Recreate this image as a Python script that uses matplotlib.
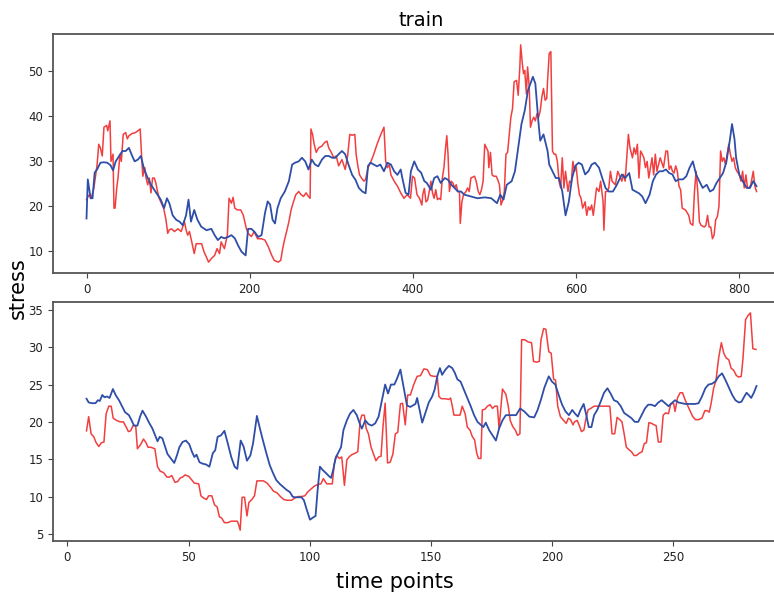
import numpy as np
import matplotlib
matplotlib.use("Agg")
import matplotlib.pyplot as plt

train_true_x = [0, 3, 6, 9, 13, 15, 17, 19.3, 21.4, 24.7, 26, 28.8, 30, 32.5, 33.7, 35, 37, 38.6, 41, 42.7,
                45, 48, 50, 52, 56, 60, 63, 65.8, 67.4, 69, 71.5, 73, 75, 77, 79, 81, 83, 85, 87, 89,
                91, 94.5, 97.4, 99.5, 101.5, 104.4, 107.7, 112, 116, 120, 122, 124, 126.2, 129, 132, 134.4, 138.5, 141, 144, 147,
                149.6, 153, 157, 160, 163, 165, 169, 172.6, 174.7, 177.6, 179.6, 181.7, 185, 189, 192, 194, 196, 198, 202, 205.5,
                209.6, 214.5, 218.7, 222.8, 227, 230, 235, 238, 240.4, 243, 246, 248, 250.7, 253.6, 256.5, 260, 263, 266, 269, 272,
                274, 275, 277, 279, 281.5, 284.4, 288.5, 291.8, 294.7, 296.8, 300, 303, 306, 309, 313, 317, 320, 322.6, 325.5, 328.8,
                330.4, 332.5, 334.6, 337, 340, 342, 345, 348, 352, 356, 360, 364.5, 366.6, 368.7, 371, 373, 377, 381, 385, 389,
                393, 397, 399.5, 402, 405, 408, 411, 412, 414, 416, 418, 420, 422, 424, 426, 428, 430, 432, 434, 436,
                438, 440, 441.5, 443, 444.7, 446.8, 449, 451, 453, 455, 457, 458, 460, 462, 465, 467, 469, 471, 475.5, 477.5,
                480, 482, 484, 486, 488, 490, 492, 493, 495, 497, 499, 502, 504, 506, 508, 510, 512, 514, 516, 518,
                520, 522, 524, 527, 529, 531, 532, 534, 535.5, 537, 539, 540.5, 542.5, 544, 546, 548, 550, 552, 554, 556,
                558, 560, 562, 564, 565, 567, 569, 571, 573, 575, 577, 579, 581, 583, 585, 587, 590, 592, 594, 596,
                598, 600, 602, 604, 606, 608, 611, 613, 615, 617, 619, 621, 623, 625, 628, 630, 632, 633, 634, 636,
                638, 640, 642, 644, 648, 651, 656, 658, 660, 662, 664, 666, 669, 671, 673, 675, 677, 679, 681, 683,
                685, 687, 689, 691, 693, 695, 697, 699, 701, 703, 707, 710, 712, 714, 716, 718, 720, 722, 724, 726,
                728, 730, 734, 738, 740, 743, 745, 747, 749, 751, 753, 757, 759, 761, 763, 765, 767, 769, 771, 773,
                775, 777, 779, 781, 783, 785, 787, 789, 791, 793, 795, 797, 800, 802, 804, 806, 808, 810, 812, 814,
                817, 819, 821]
train_true = [21.5, 22.5, 22, 24, 29.3, 33.8, 33, 31.2, 37.6, 38, 36.8, 39, 30, 31.6, 19.6, 19.6, 24, 26.3, 31.6, 30,
              36, 36.4, 35, 35.7, 36.2, 36.4, 36.8, 37.2, 31.6, 26.7, 28.6, 26.3, 24.8, 26.3, 23, 26.3, 26.3, 25.2, 23.3, 21.8,
              21, 19.6, 17, 14, 14.8, 15, 14.4, 15, 14.4, 16.6, 14.8, 13.6, 14.4, 12.1, 9.5, 11.7, 11.7, 11.7, 9.9, 8.7,
              7.6, 8.4, 9.1, 10.6, 9.5, 12.1, 10.6, 13.6, 21.8, 20.7, 22, 19.6, 19.2, 19.2, 18.1, 16.6, 15, 14, 13.3, 14.4,
              12.8, 12.8, 12.5, 11, 9.1, 8, 7.6, 8, 10.6, 12.8, 15, 16.6, 19.2, 21, 22.6, 23.3, 22.6, 22.2, 23, 22.2,
              21.8, 37.2, 36, 33.8, 32, 33, 33.4, 34.2, 34.5, 33, 32, 30.8, 31.2, 29, 30.4, 28.2, 31.2, 36, 35.8, 36,
              31.6, 29, 27, 26.3, 25.6, 26, 28.6, 29.7, 31.6, 33.8, 35.7, 37.6, 30, 28.6, 29.3, 27, 25.6, 24.5, 23, 21.8,
              22.6, 21.8, 26.7, 26.3, 22.6, 21.8, 20.3, 22.6, 24, 21, 21.4, 23.3, 25.6, 23, 21.8, 23.7, 21.5, 21.8, 21.5, 26.3,
              28.6, 33, 35.7, 31.6, 23.3, 25.6, 25.2, 24.1, 24.8, 23.3, 23.3, 16.2, 21, 22.6, 23.3, 24.1, 23.3, 26.3, 26.7, 25.6,
              23.3, 22.6, 23.7, 25.6, 33.8, 33, 32.3, 28.6, 32, 27, 26.7, 26.7, 25.9, 24.8, 20.3, 21.4, 23.3, 31.6, 32, 36,
              39.8, 41.7, 47.7, 48, 44.7, 51, 55.9, 51.8, 49.5, 50.2, 45, 51, 46.6, 37.6, 39, 39.8, 39, 40.6, 39.8, 41.3,
              44.3, 46.2, 43.6, 44, 48, 54, 54.4, 32.3, 31.6, 31.6, 30, 25.6, 24.1, 30.8, 24.1, 27.8, 23.3, 25.6, 25.2, 30,
              27.8, 28.9, 25.2, 22.6, 21.8, 19.6, 21, 18, 19.9, 19.2, 20.3, 18, 21, 24.1, 23.3, 25.6, 22.6, 21, 14.7, 23.3,
              23.3, 24.1, 27.8, 25.6, 24.8, 27.8, 25.6, 27.1, 25.6, 30.8, 36, 33, 30.8, 33, 31.6, 33.8, 26.3, 32.3, 31.6, 30.8,
              28.6, 30, 26.3, 28.6, 30.8, 27, 31.6, 27.8, 29.3, 30.8, 28.6, 32.3, 32.3, 28.2, 29, 27.8, 27.4, 29, 27.8, 24.5,
              23.7, 19.6, 19.2, 18, 16.2, 15.8, 23.3, 27.8, 23.3, 16.6, 15.8, 15.4, 15.8, 18, 15.4, 15.4, 12.8, 13.6, 17, 17.7,
              20, 32.3, 30, 30.8, 29.3, 31.6, 33.8, 31.6, 30, 30.8, 28.6, 27.8, 27, 25.6, 27.8, 24.1, 27, 24.1, 24.1, 24.8,
              27.8, 24.5, 23.3]

train_pred_x = [0, 1.6, 5, 7.4, 10, 13, 17, 21, 25.5, 29.6, 32.5, 35.8, 40, 44, 48, 52, 56, 59, 63, 66.6,
                70.7, 75, 79, 83, 87, 91, 95, 98.6, 101.5, 105.6, 110, 114, 118, 122, 125, 128, 132, 136, 140.5, 147,
                153, 157, 161, 165, 169, 173.5, 177.6, 181.7, 185.8, 190, 195, 198, 202, 206, 210.4, 214.5, 218.7, 222, 225, 228,
                231, 234, 238, 243, 248, 252, 255.6, 260, 264, 268, 272, 276, 280, 284, 288.5, 292.6, 296.8, 301, 305, 309,
                313, 317, 321, 325.5, 329.6, 333.7, 338, 342, 345, 348, 352, 356, 360, 364.5, 368.7, 373, 377, 381, 385, 387,
                391, 394.6, 397.5, 401.6, 406, 410, 414, 417, 422, 426, 430, 434, 439, 443, 447, 451, 455, 459, 463, 471,
                479, 488, 496, 503, 507, 511, 515, 521, 525, 529, 533, 537, 541, 547, 550, 554, 556, 560, 565, 567,
                571, 575, 579, 583, 587, 591, 595, 599, 603, 607, 611, 615, 619, 623, 628, 632, 636, 640, 645, 649,
                652, 656, 660, 665, 669, 673, 677, 681, 685, 690, 694, 698, 702, 706, 710, 714, 718, 722, 726, 731,
                735, 739, 743, 747, 751, 755, 760, 764, 768, 772, 776, 780, 784, 788, 791, 794, 796, 800, 804, 809,
                813, 817, 821]
train_pred = [17.3, 26, 21.8, 21.8, 27.5, 28.2, 29.7, 29.8, 29.7, 29.1, 28, 30, 31.2, 32.3, 32.3, 33, 31.2, 30, 30.4, 31.2,
              28.2, 26.3, 24.8, 23.7, 22.6, 21.5, 19.6, 21.8, 20.7, 18, 17, 16.6, 15.8, 18, 21.5, 16.6, 19.2, 17, 15.5, 14.7,
              15, 13.6, 12.5, 13.2, 12.9, 13.2, 13.6, 12.9, 11.3, 9.9, 9.1, 15, 15, 14.3, 13.2, 13.6, 18.5, 21.1, 20.4, 17,
              16.2, 19.6, 21.8, 23.3, 25.6, 29.3, 29.7, 30, 30.8, 30, 28.2, 30.4, 29.3, 28.9, 30.4, 31.2, 31.2, 30.8, 30.8, 31.6,
              32.3, 31.6, 29.3, 27, 25.9, 24.1, 23.3, 22.9, 29, 29.7, 29.3, 28.9, 29.3, 27.8, 29.7, 29.3, 27.8, 27, 28.2, 26.3,
              23, 22.6, 27.8, 30, 28.2, 27.5, 25.6, 25.2, 23.7, 26.3, 26.7, 25.2, 26.3, 25.9, 24.8, 24.1, 23.3, 23.3, 22.6, 22.2,
              21.8, 22, 21.8, 20.7, 22.6, 21.5, 24.8, 25.6, 27.8, 33, 38.3, 41.3, 45.8, 48.8, 47.3, 38.3, 34.6, 36, 32.3, 29.3,
              27.8, 26.3, 26.3, 23.3, 18, 21, 26.3, 29, 29.7, 29.3, 27.1, 27.8, 29.3, 29.7, 28.6, 26.3, 24.1, 23.3, 23.3, 24.5,
              25.6, 27.1, 26.3, 27.4, 23.7, 23.3, 22.9, 22.2, 20.7, 22.6, 25.6, 27.1, 27.8, 27.8, 28.2, 27.4, 27.1, 25.6, 26, 26,
              26.7, 28.6, 30, 27.1, 25.6, 24.1, 24.8, 23.3, 23.7, 25.2, 26.3, 27.4, 29.8, 34.3, 38.3, 35, 30.8, 27, 25.6, 24.1,
              24.1, 25.6, 24.5]

# test: actual (red) and predicted (blue) stress
test_true_x = [7.9, 8.8, 9.8, 10.9, 11.9, 13, 14, 15.1, 16, 17.1, 18.1, 18.9, 20.3, 21.7, 23.1, 24.1, 25.2, 26.1, 27.1, 28.2,
               28.9, 30.3, 31.4, 32.3, 33.3, 34.4, 36.1, 37.2, 38.3, 39.7, 41.1, 42, 43.1, 44.4, 45.5, 46.6, 47.5, 48.6, 50.1, 51.4,
               52.4, 54.2, 55.1, 56.2, 57.4, 58.3, 59.6, 60.7, 61.8, 62.7, 63.7, 64.8, 66.2, 67.6, 69, 70.1, 70.6, 71.3, 72.1, 73.1,
               74.1, 74.9, 76.1, 77.2, 78.2, 79.6, 80.9, 82.4, 83.7, 85.1, 86.5, 87.9, 89.3, 90.7, 92.5, 93.8, 95.2, 96.6, 98, 99.1,
               100.5, 101.9, 103.2, 104.6, 105.6, 107, 108.4, 109.3, 110.1, 111.1, 112.2, 113.2, 114.3, 115.3, 116.2, 117.3, 118.7, 119.8, 120.8, 121.5,
               122.5, 123.3, 124.2, 125.3, 126.3, 127.3, 128.4, 129.4, 130.2, 131.1, 132.1, 133.2, 134.3, 135.3, 136.3, 137.4, 138.3, 139.4, 140.4, 141.5,
               142.9, 144.3, 145.7, 147.1, 148.5, 149.8, 151.2, 152.6, 153.3, 154.3, 156, 157.4, 158.1, 158.8, 159.5, 160.9, 162, 162.9, 164.1, 165,
               166.1, 167.1, 168, 168.9, 169.6, 170.6, 171.2, 172.3, 173.3, 174.4, 175.4, 176.3, 177.4, 178.1, 179.5, 180.9, 181.9, 182.7, 183.7, 184.8,
               185.7, 186.7, 187.4, 188.7, 190.1, 191.5, 192.3, 193.6, 194.7, 195.4, 196.5, 197.4, 198.6, 199.6, 200.6, 201.4, 202.3, 203.4, 204.7, 205.8,
               206.7, 207.6, 208.6, 209.2, 210.3, 211.1, 212.1, 213.1, 213.8, 214.8, 215.9, 217.3, 218.9, 220.6, 222.4, 223.8, 224.7, 225.8, 226.8, 227.9,
               228.8, 229.7, 230.6, 231.6, 232.7, 233.8, 234.8, 235.9, 237.1, 238, 238.9, 239.9, 241, 242.1, 242.9, 243.8, 244.9, 245.8, 246.8, 248,
               248.9, 250.1, 250.7, 251.7, 252.8, 253.8, 254.9, 256, 257, 258, 259.1, 260.4, 261.8, 263, 263.9, 264.8, 265.6, 266.6, 267.6, 268.7,
               269.8, 270.8, 271.7, 272.9, 273.8, 274.9, 276, 277, 278, 278.7, 279.8, 280.7, 281.8, 282.8, 284.1]
test_true = [18.8, 20.7, 18.4, 18, 17.2, 16.7, 17.2, 17.3, 21.1, 22.1, 22.1, 20.5, 20.2, 20, 20, 19.4, 18.7, 18.8, 19.5, 19.5,
             16.4, 17, 17.7, 17.3, 16.6, 16.6, 16.4, 14, 13.4, 13.2, 12.6, 12.6, 12.8, 11.9, 12, 12.5, 12.6, 12.9, 12.7, 12.2,
             11.8, 11.7, 10.1, 9.8, 9.6, 10.1, 10.1, 8.9, 8.6, 7.3, 7.1, 6.5, 6.5, 6.7, 6.7, 6.7, 6.3, 5.5, 9.9, 9.9,
             7.4, 9.2, 9.6, 10.1, 12.1, 12.1, 12.1, 11.8, 11.3, 10.7, 10.5, 10, 9.6, 9.5, 9.5, 9.8, 10, 10, 10.1, 10.6,
             11, 11.4, 11.6, 11.7, 12.4, 11.7, 11.7, 11.7, 14.4, 15.5, 15.1, 15.3, 11.5, 14.9, 15.3, 15.6, 15.8, 16, 20.2, 20.9,
             20.9, 19.1, 18.4, 16.6, 15.7, 14.8, 15.3, 15.4, 19.3, 22.5, 14.5, 14.6, 15.7, 18.4, 18.6, 22.4, 22.5, 19.6, 23.6, 23.6,
             25, 26.1, 26.2, 27.1, 27, 26.2, 26.1, 26.1, 23.4, 23.1, 23.1, 23, 23.2, 22.1, 20.9, 20.9, 20.9, 22.1, 21.1, 19.3,
             18.9, 18, 17.6, 15.8, 15.1, 15.1, 21.6, 21.7, 22.1, 22.3, 21.8, 22.1, 22.1, 19.1, 24.4, 23.7, 22.1, 20.2, 19.4, 18.9,
             18.2, 18.4, 31, 31, 30.7, 30.6, 28.1, 28, 28.1, 31, 32.5, 32.4, 29.4, 29.2, 25.7, 25.6, 22.1, 20.7, 20.2, 19.8,
             20.5, 20.3, 19.6, 20, 20.2, 19.6, 18.7, 18.9, 20.2, 21.6, 21.8, 22.1, 22.1, 22.1, 22.1, 22.1, 18.4, 18.4, 20.6, 20.3,
             20, 18.4, 16.6, 16.3, 16, 15.5, 15.5, 15.8, 16, 17.1, 17.2, 19.9, 19.8, 19.6, 19.5, 17.3, 17.3, 20.9, 21.2, 21.1,
             22.4, 22.5, 21.4, 23.2, 23.9, 23.9, 22.9, 22.1, 21.4, 20.7, 20.3, 20.3, 20.5, 21.5, 21.5, 21.3, 22.5, 24.5, 25.6, 28.6,
             30.6, 29.2, 28.6, 28.3, 27.2, 26.9, 26.2, 26, 26.1, 28.4, 33.7, 34.2, 34.6, 29.8, 29.7]

test_pred_x = [7.9, 8.8, 10.2, 11.6, 12.6, 13.4, 14.4, 15.3, 16.4, 17.4, 18.8, 19.9, 21.3, 22.7, 23.8, 25.4, 26.5, 27.5, 28.9, 30,
               31, 32.3, 33.7, 35.1, 36.2, 37.2, 38.1, 39.2, 40.4, 41.3, 42.7, 44.1, 45.2, 46.2, 47.5, 48.9, 50.3, 51.4, 52.4, 53.3,
               54.5, 55.8, 57.2, 58.6, 60, 61, 62, 63.4, 64.8, 66.2, 67.6, 69, 70.1, 71.5, 72.7, 74.1, 75.5, 76.6, 78.2, 79.3,
               80.7, 82.1, 83.5, 84.9, 86.2, 87.6, 89, 90.4, 91.8, 92.9, 93.8, 95.2, 96.6, 97.6, 98.7, 100.1, 101.4, 102.4, 103.2, 104.2,
               105.2, 106.5, 107.7, 108.8, 109.7, 110.7, 111.8, 112.9, 113.9, 115.3, 116.6, 118, 119.4, 120.8, 121.5, 122.9, 124.2, 125.6, 127, 128.4,
               129.8, 131.1, 132.3, 133.5, 134.9, 136, 137.4, 138.7, 140.1, 141.5, 143.6, 144.3, 146.4, 147.7, 149.1, 150.5, 151.5, 152.6, 153.7, 154.6,
               156, 157.4, 158.8, 159.8, 160.9, 162.2, 163.6, 165, 166.4, 167.8, 169.2, 170.6, 171.6, 172.6, 174, 175.4, 176.8, 178.1, 179.5, 180.9,
               183, 185.1, 186.8, 188.5, 190.6, 192.6, 194, 195.4, 196.8, 198.6, 199.9, 201.3, 202.7, 204.1, 205.5, 206.9, 208.3, 209.2, 210.6, 211.7,
               213, 214.1, 215.1, 216.2, 217.3, 218.6, 220, 221.4, 222.8, 224.1, 225.5, 226.9, 228.3, 229.7, 231.4, 232.7, 234.1, 235.5, 236.9, 238.3,
               239.6, 241, 242.4, 243.8, 245.2, 246.6, 248, 249.3, 250.7, 252.1, 253.5, 254.9, 256.2, 257.6, 259, 260.4, 261.8, 263.2, 264.5, 265.9,
               267.3, 268.7, 270.1, 271.5, 272.9, 274.3, 275.6, 277, 278.1, 279.1, 280.2, 281.1, 282.1, 283.2, 284.3]
test_pred = [23.1, 22.6, 22.5, 22.5, 22.9, 22.8, 23.6, 23.3, 23.4, 23.2, 24.4, 23.6, 22.9, 22, 21.3, 20.9, 20.2, 19.5, 19.5, 20.7,
             21.5, 20.8, 19.9, 19.1, 18.2, 17.4, 18, 17.8, 16.6, 15.7, 15.1, 14.5, 15.5, 16.6, 17.3, 17.5, 17, 16, 15.3, 15.6,
             14.6, 14.4, 14.3, 14, 15.8, 16.2, 18, 18.2, 18.8, 17.1, 15.3, 14, 13.7, 17.5, 16.7, 14.8, 15.5, 17.1, 20.8, 19.3,
             17.5, 15.8, 14.2, 13.1, 12.2, 11.7, 11.3, 10.9, 10.6, 10, 9.9, 9.9, 9.9, 9.5, 8.3, 6.9, 7.2, 7.4, 10.7, 14,
             13.6, 13.2, 12.8, 12.5, 13.6, 15.2, 15.9, 16.6, 18.9, 20.2, 21.1, 21.6, 20.9, 19.6, 19.1, 20.2, 19.7, 19.5, 19.8, 20.7,
             22.9, 25, 23.8, 25, 25, 25.8, 27, 24.7, 22.2, 22, 22.4, 23.2, 19.9, 21.2, 22.6, 23.4, 24.3, 26.1, 27.2, 26.3,
             27, 27.5, 27.2, 26.6, 25.7, 25.4, 24.3, 23.2, 22.1, 20.9, 20, 19.6, 19.3, 19.9, 18.9, 18.2, 17.5, 19.1, 20.2, 20.9,
             20.9, 20.9, 21.8, 21.4, 20.7, 20.6, 21.6, 23, 24.6, 26.1, 25.4, 25, 23.6, 22.3, 21.4, 20.9, 21.6, 21.2, 20.7, 21.6,
             22.4, 20.9, 19.3, 19.3, 20.9, 21.6, 22.7, 23.9, 24.5, 23.8, 22.9, 22.7, 22.1, 21.2, 20.8, 20.5, 20, 20, 20.9, 21.8,
             22.3, 22.3, 22.1, 22.6, 22.9, 22.5, 22.1, 22.5, 22.9, 22.6, 22.5, 22.4, 22.4, 22.4, 22.4, 22.5, 23.4, 24.5, 25, 25.1,
             25.4, 26.1, 26.5, 25.6, 24.6, 23.6, 22.9, 22.6, 22.7, 23.3, 23.9, 23.6, 23.2, 23.9, 24.8]

true_color = "#f02a2a"
pred_color = "#2e4ea8"

fig = plt.figure(figsize=(7.74, 5.93), dpi=100)
W, H = 774, 593
# the original figure was cropped on the right, so the axes run past the edge
ax1 = fig.add_axes([53 / W, 1 - 273 / H, (790 - 53) / W, (273 - 34) / H])
ax2 = fig.add_axes([53 / W, 1 - 541 / H, (790 - 53) / W, (541 - 302) / H])

ax1.plot(train_true_x, train_true, color=true_color, lw=1.1, alpha=0.9)
ax1.plot(train_pred_x, train_pred, color=pred_color, lw=1.3)
ax2.plot(test_true_x, test_true, color=true_color, lw=1.1, alpha=0.9)
ax2.plot(test_pred_x, test_pred, color=pred_color, lw=1.3)

ax1.set_yticks([10, 20, 30, 40, 50])
ax1.set_xticks([0, 200, 400, 600, 800])
ax2.set_yticks([5, 10, 15, 20, 25, 30, 35])
ax2.set_xticks([0, 50, 100, 150, 200, 250])

for ax in (ax1, ax2):
    for s in ax.spines.values():
        s.set_color("#555555")
        s.set_linewidth(1.3)
    ax.tick_params(labelsize=8.5, color="#444444", labelcolor="#222222", length=3.5)

ax1.set_title("train", fontsize=14, pad=6)
fig.text(18 / W, 1 - 288 / H, "stress", rotation=90, fontsize=15, ha="center", va="center")
fig.text(395 / W, 1 - 582 / H, "time points", fontsize=15, ha="center", va="center")

fig.savefig("out.png", dpi=100)
